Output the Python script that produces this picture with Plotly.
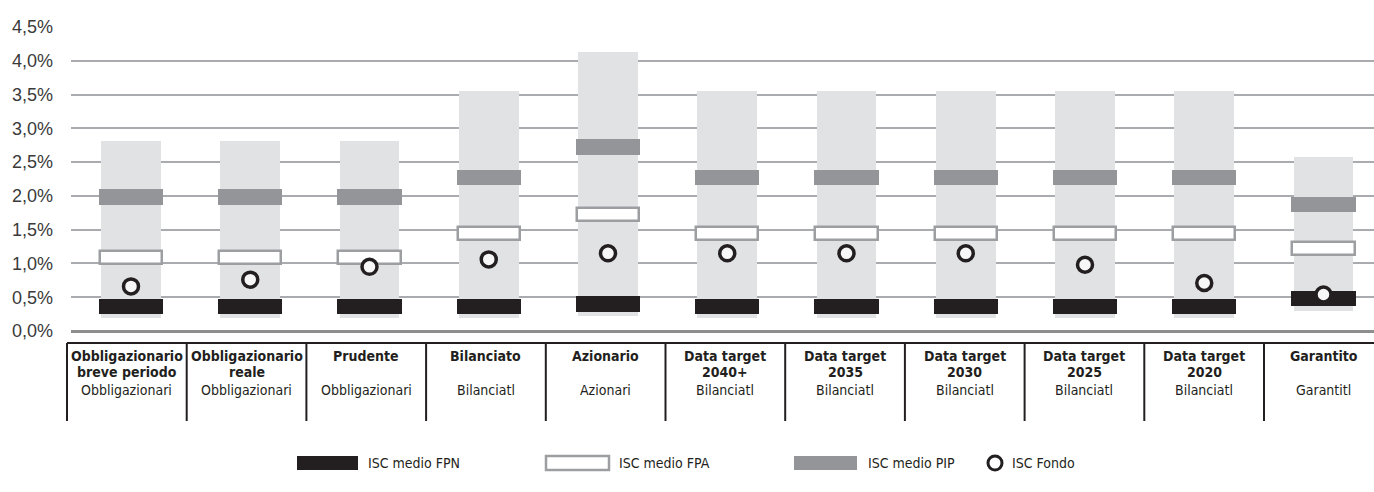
import plotly.graph_objects as go

# ---------------- data ----------------
categories = [
    ["Obbligazionario", "breve periodo"],
    ["Obbligazionario", "reale"],
    ["Prudente"],
    ["Bilanciato"],
    ["Azionario"],
    ["Data target", "2040+"],
    ["Data target", "2035"],
    ["Data target", "2030"],
    ["Data target", "2025"],
    ["Data target", "2020"],
    ["Garantito"],
]
subtypes = ["Obbligazionari", "Obbligazionari", "Obbligazionari", "Bilanciatl", "Azionari",
            "Bilanciatl", "Bilanciatl", "Bilanciatl", "Bilanciatl", "Bilanciatl", "Garantitl"]

range_min = [0.19, 0.19, 0.19, 0.19, 0.22, 0.19, 0.19, 0.19, 0.19, 0.19, 0.29]
range_max = [2.81, 2.81, 2.81, 3.56, 4.13, 3.56, 3.56, 3.56, 3.56, 3.56, 2.58]
isc_fpn = [0.36, 0.36, 0.36, 0.36, 0.40, 0.36, 0.36, 0.36, 0.36, 0.36, 0.48]
isc_fpa = [1.09, 1.09, 1.09, 1.44, 1.73, 1.44, 1.44, 1.44, 1.44, 1.44, 1.22]
isc_pip = [1.98, 1.98, 1.98, 2.27, 2.72, 2.27, 2.27, 2.27, 2.27, 2.27, 1.87]
isc_fondo = [0.66, 0.76, 0.95, 1.06, 1.15, 1.15, 1.15, 1.15, 0.98, 0.71, 0.54]

y_ticks = [0.0, 0.5, 1.0, 1.5, 2.0, 2.5, 3.0, 3.5, 4.0, 4.5]
y_tick_labels = ["0,0%", "0,5%", "1,0%", "1,5%", "2,0%", "2,5%", "3,0%", "3,5%", "4,0%", "4,5%"]
legend_labels = ["ISC medio FPN", "ISC medio FPA", "ISC medio PIP", "ISC Fondo"]

# ---------------- styles / layout constants ----------------
W, H = 1374, 492
PL, PW = 71, 1303          # plot area left / width (px)
PT, PB = 27, 331           # plot area top / bottom (px)
PH = PB - PT
STEP = 119.25              # px per category
X0 = -(131 - PL) / STEP
X1 = X0 + PW / STEP

C_RANGE = "#e1e2e4"
C_FPN = "#231f20"
C_PIP = "#939598"
C_FPA_LINE = "#9c9ea1"
C_GRID = "#a9abae"
C_TEXT = "#231f20"
BAND = 0.23                # thickness of the band marks (in % units)
FONT_N = "DejaVu Sans Condensed, Roboto, sans-serif"


def px2x(px):
    return (px - PL) / PW


def py2y(py):
    return (PB - py) / PH


x = list(range(len(categories)))

fig = go.Figure()

# light range bars
fig.add_trace(go.Bar(
    x=x, y=[hi - lo for lo, hi in zip(range_min, range_max)], base=range_min,
    width=0.5, marker=dict(color=C_RANGE, line=dict(width=0)), showlegend=False,
    hoverinfo="skip"))

# PIP band
fig.add_trace(go.Bar(
    x=x, y=[BAND] * len(x), base=[v - BAND / 2 for v in isc_pip],
    width=0.54, marker=dict(color=C_PIP, line=dict(width=0)), name=legend_labels[2],
    showlegend=False))

# FPA band (outlined)
fig.add_trace(go.Bar(
    x=x, y=[BAND - 0.04] * len(x), base=[v - (BAND - 0.04) / 2 for v in isc_fpa],
    width=0.52, marker=dict(color="white", line=dict(width=2.5, color=C_FPA_LINE)),
    name=legend_labels[1], showlegend=False))

# FPN band
fig.add_trace(go.Bar(
    x=x, y=[BAND] * len(x), base=[v - BAND / 2 for v in isc_fpn],
    width=0.54, marker=dict(color=C_FPN, line=dict(width=0)), name=legend_labels[0],
    showlegend=False))

# ISC Fondo circles
fig.add_trace(go.Scatter(
    x=x, y=isc_fondo, mode="markers", name=legend_labels[3], showlegend=False,
    marker=dict(symbol="circle", size=15, color="#f7f7f7",
                line=dict(color=C_FPN, width=3.5))))

shapes = []
annotations = []

# table: top border + separators
TABLE_TOP, TABLE_BOT = 343, 421
CELL_L, CELL_W = 67, 119.7
shapes.append(dict(type="line", xref="paper", yref="paper",
                   x0=px2x(CELL_L), x1=px2x(W + 5), y0=py2y(TABLE_TOP), y1=py2y(TABLE_TOP),
                   line=dict(color=C_FPN, width=2)))
for k in range(len(categories)):
    xs = CELL_L + CELL_W * k
    shapes.append(dict(type="line", xref="paper", yref="paper",
                       x0=px2x(xs), x1=px2x(xs), y0=py2y(TABLE_TOP), y1=py2y(TABLE_BOT),
                       line=dict(color=C_FPN, width=2)))

LINE_Y = [356, 372]
SUB_Y = 390
for k, (lines, sub) in enumerate(zip(categories, subtypes)):
    xc = px2x(CELL_L + CELL_W * (k + 0.5))
    for j, ln in enumerate(lines):
        annotations.append(dict(text="<b>" + ln + "</b>", xref="paper", yref="paper",
                                x=xc, y=py2y(LINE_Y[j]), xanchor="center", yanchor="middle",
                                showarrow=False, font=dict(family=FONT_N, size=14, color=C_TEXT)))
    annotations.append(dict(text=sub, xref="paper", yref="paper",
                            x=xc, y=py2y(SUB_Y), xanchor="center", yanchor="middle",
                            showarrow=False, font=dict(family=FONT_N, size=14, color=C_TEXT)))

# legend (drawn manually)
LEG_Y = 463
LEG_HALF = 7
leg_rects = [(297, 358, C_FPN, C_FPN, 0), (546, 609, "white", C_FPA_LINE, 2.5),
             (794, 857, C_PIP, C_PIP, 0)]
for (a, b, fill, lc, lw) in leg_rects:
    shapes.append(dict(type="rect", xref="paper", yref="paper",
                       x0=px2x(a), x1=px2x(b), y0=py2y(LEG_Y + LEG_HALF), y1=py2y(LEG_Y - LEG_HALF),
                       fillcolor=fill, line=dict(color=lc, width=lw)))
shapes.append(dict(type="circle", xref="paper", yref="paper",
                   x0=px2x(988), x1=px2x(1002), y0=py2y(LEG_Y + 7), y1=py2y(LEG_Y - 7),
                   fillcolor="white", line=dict(color=C_FPN, width=3)))
for lbl, tx in zip(legend_labels, [366, 617, 866, 1010]):
    annotations.append(dict(text=lbl, xref="paper", yref="paper", x=px2x(tx), y=py2y(LEG_Y),
                            xanchor="left", yanchor="middle", showarrow=False,
                            font=dict(family=FONT_N, size=14, color=C_TEXT)))

fig.update_layout(
    width=W, height=H,
    margin=dict(l=PL, r=W - PL - PW, t=PT, b=H - PB, pad=0),
    plot_bgcolor="white", paper_bgcolor="white",
    barmode="overlay", bargap=0,
    showlegend=False,
    shapes=shapes, annotations=annotations,
    xaxis=dict(range=[X0, X1], showgrid=False, zeroline=False, showticklabels=False,
               showline=False, fixedrange=True),
    yaxis=dict(range=[0, 4.5], tickvals=y_ticks, ticktext=y_tick_labels,
               showgrid=True, gridcolor=C_GRID, gridwidth=1.5,
               zeroline=True, zerolinecolor="#8e8e8e", zerolinewidth=3,
               showline=False, ticks="", ticklabelstandoff=17,
               tickfont=dict(family="Liberation Sans", size=18, color="#3a3a3a")),
)

fig.write_html("out.html", config={"displayModeBar": False},
               post_script="document.body.style.margin='0';")
